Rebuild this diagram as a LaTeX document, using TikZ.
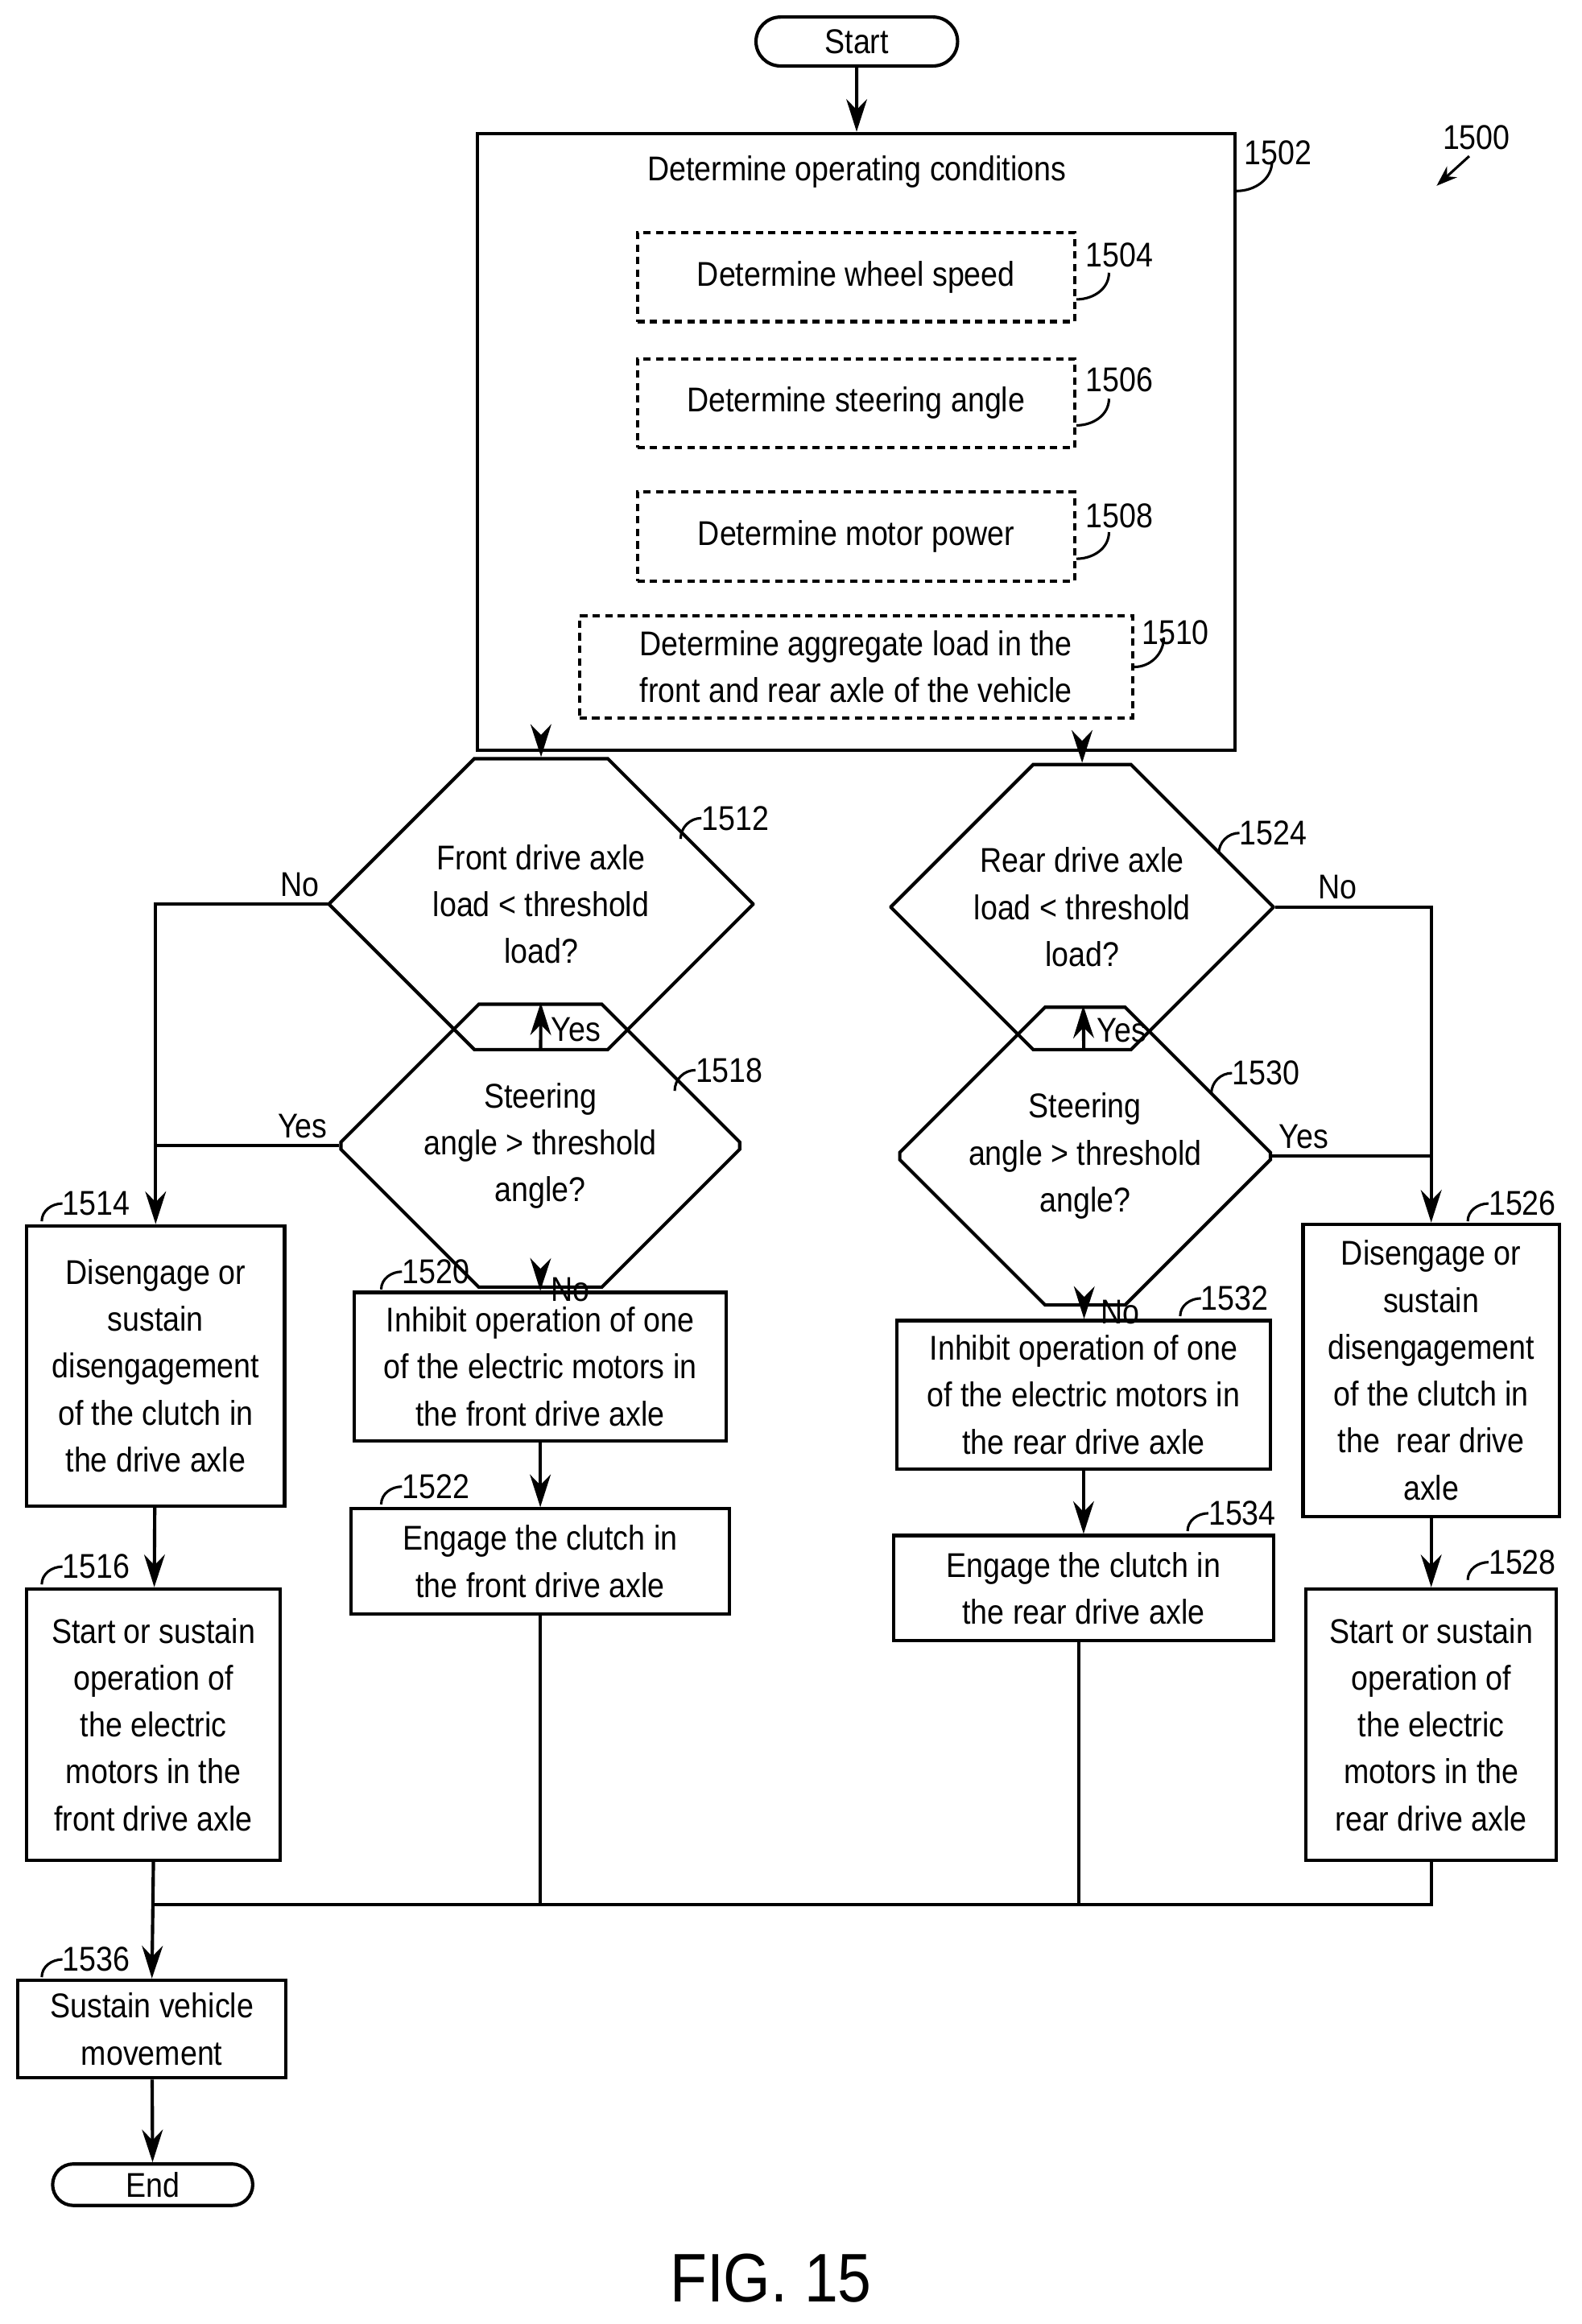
\documentclass[tikz,border=0pt]{standalone}
\usepackage{fontspec}
\setmainfont{Liberation Sans}[FakeStretch=0.88]
\usetikzlibrary{shapes.misc,arrows.meta}
\begin{document}
\begin{tikzpicture}[x=0.5mm,y=-0.5mm,
  every node/.style={font=\fontsize{33}{45}\selectfont, align=center, inner sep=0pt},
  ln/.style={line width=3.2pt},
  box/.style={draw, line width=3.2pt, rectangle},
  dbox/.style={draw, line width=3.2pt, rectangle, dash pattern=on 7pt off 5pt},
  hex/.style={draw, line width=3.2pt, chamfered rectangle, chamfered rectangle xsep=20mm, chamfered rectangle ysep=29mm},
  term/.style={draw, line width=3.2pt, rounded rectangle},
  arr/.style={ln, -{Stealth[length=11mm,width=7mm]}},
  lab/.style={font=\fontsize{33}{45}\selectfont},
  hook/.style={line width=2.4pt}
]
\useasboundingbox (0,0) rectangle (1067,1568);
% terminals
\node[term, minimum width=68mm, minimum height=16.5mm] (start) at (578,28) {Start};
\node[term, minimum width=67.5mm, minimum height=14mm] (end) at (103,1474) {End};
% main box
\node[box, minimum width=255.5mm, minimum height=208mm] (b1502) at (577.5,298) {};
\node (t1502) at (578,116) {Determine operating conditions};
\node[dbox, minimum width=147.5mm, minimum height=30mm] (b1504) at (577.5,187) {Determine wheel speed};
\node[dbox, minimum width=147.5mm, minimum height=30mm] (b1506) at (577.5,272) {Determine steering angle};
\node[dbox, minimum width=147.5mm, minimum height=30mm] (b1508) at (577.5,362) {Determine motor power};
\node[dbox, minimum width=186.5mm, minimum height=34.5mm] (b1510) at (577.5,450) {Determine aggregate load in the\\front and rear axle of the vehicle};
% hexagons
\node[hex, minimum width=143mm, minimum height=58mm] (d1512) at (365,610) {Front drive axle\\load < threshold\\load?};
\node[hex, minimum width=134.5mm, minimum height=53mm, chamfered rectangle ysep=26.5mm] (d1518) at (364.5,773) {Steering\\angle > threshold\\angle?};
\node[hex, minimum width=129mm, minimum height=56mm, chamfered rectangle ysep=28mm] (d1524) at (730,612) {Rear drive axle\\load < threshold\\load?};
\node[hex, minimum width=125mm, minimum height=58mm] (d1530) at (732,780) {Steering\\angle > threshold\\angle?};
% boxes
\node[box, minimum width=87mm, minimum height=94.5mm] (b1514) at (105,921.5) {Disengage or\\sustain\\disengagement\\of the clutch in\\the drive axle};
\node[box, minimum width=85.5mm, minimum height=91.5mm] (b1516) at (103.5,1163.5) {Start or sustain\\operation of\\the electric\\motors in the\\front drive axle};
\node[box, minimum width=125.5mm, minimum height=50mm] (b1520) at (364.5,922) {Inhibit operation of one\\of the electric motors in\\the front drive axle};
\node[box, minimum width=127.5mm, minimum height=35.5mm] (b1522) at (364.5,1053.5) {Engage the clutch in\\the front drive axle};
\node[box, minimum width=126mm, minimum height=50mm] (b1532) at (731,941) {Inhibit operation of one\\of the electric motors in\\the rear drive axle};
\node[box, minimum width=128mm, minimum height=35.5mm] (b1534) at (731,1071.5) {Engage the clutch in\\the rear drive axle};
\node[box, minimum width=86.5mm, minimum height=98.5mm] (b1526) at (965.5,924.5) {Disengage or\\sustain\\disengagement\\of the clutch in\\the\ \ rear drive\\axle};
\node[box, minimum width=84.5mm, minimum height=91.5mm] (b1528) at (965.5,1163.5) {Start or sustain\\operation of\\the electric\\motors in the\\rear drive axle};
\node[box, minimum width=90.5mm, minimum height=33mm] (b1536) at (102.5,1369) {Sustain vehicle\\movement};
% connectors
\draw[arr] (start) -- (b1502);
\draw[arr] (b1502.south -| d1512.north) -- (d1512);
\draw[arr] (b1502.south -| d1524.north) -- (d1524);
\draw[arr] (d1512) -- node[lab, right=3mm, pos=0.45] {Yes} (d1518);
\draw[arr] (d1512.west) -| node[lab, pos=0.08, above=2mm] {No} (b1514.north);
\draw[ln] (d1518.west) -- node[lab, pos=0.2, above=2mm] {Yes} (d1518.west -| b1514.north);
\draw[arr] (d1518) -- node[lab, right=3mm, pos=0.45] {No} (b1520);
\draw[arr] (b1520) -- (b1522);
\draw[arr] (d1524) -- node[lab, right=4mm, pos=0.45] {Yes} (d1530);
\draw[arr] (d1524.east) -| node[lab, pos=0.2, above=2mm] {No} (b1526.north);
\draw[ln] (d1530.east) -- node[lab, pos=0.2, above=2mm] {Yes} (d1530.east -| b1526.north);
\draw[arr] (d1530) -- node[lab, right=5mm, pos=0.45] {No} (b1532);
\draw[arr] (b1532) -- (b1534);
\draw[arr] (b1514) -- (b1516);
\draw[arr] (b1526) -- (b1528);
\coordinate (busL) at (103.5,1285);
\coordinate (busR) at (965.5,1285);
\draw[ln] (b1522.south) -- (b1522.south |- busL);
\draw[ln] (b1534.south) ++(-3,0) -- ++(0,178);
\draw[ln] (b1528.south) -- (busR) -- (busL);
\draw[arr] (b1516.south) -- (b1536.north);
\draw[arr] (b1536) -- (end);
% reference labels
\node (r1500) at (996,93) {1500};
\draw[line width=2.4pt, -{Stealth[length=7mm,width=5mm]}] (r1500.south west) ++(18,4) -- ++(-22,20);
\node (r1502) at (862,103) {1502};
\draw[hook] (b1502.north east) ++(0,40) to[out=0,in=-90] ++(24,-20);
\node (r1504) at (755,172) {1504};
\draw[hook] (b1504.east) ++(0,15) to[out=0,in=-90] ++(22,-18);
\node (r1506) at (755,256) {1506};
\draw[hook] (b1506.east) ++(0,15) to[out=0,in=-90] ++(22,-18);
\node (r1508) at (755,348) {1508};
\draw[hook] (b1508.east) ++(0,15) to[out=0,in=-90] ++(22,-18);
\node (r1510) at (793,427) {1510};
\draw[hook] (b1510.east) ++(0,0) to[out=0,in=-90] ++(20,-20);
\node (r1512) at (496,552) {1512};
\draw[hook] (r1512.west) to[out=180,in=90] ++(-14,14);
\node (r1518) at (492,722) {1518};
\draw[hook] (r1518.west) to[out=180,in=90] ++(-14,14);
\node (r1524) at (859,562) {1524};
\draw[hook] (r1524.west) to[out=180,in=90] ++(-14,14);
\node (r1530) at (854,724) {1530};
\draw[hook] (r1530.west) to[out=180,in=90] ++(-14,14);
\node (r1514) at (65,812) {1514};
\draw[hook] (r1514.west) to[out=180,in=90] ++(-14,12);
\node (r1516) at (65,1057) {1516};
\draw[hook] (r1516.west) to[out=180,in=90] ++(-14,12);
\node (r1520) at (294,858) {1520};
\draw[hook] (r1520.west) to[out=180,in=90] ++(-14,12);
\node (r1522) at (294,1003) {1522};
\draw[hook] (r1522.west) to[out=180,in=90] ++(-14,12);
\node (r1532) at (833,876) {1532};
\draw[hook] (r1532.west) to[out=180,in=90] ++(-14,12);
\node (r1534) at (838,1021) {1534};
\draw[hook] (r1534.west) to[out=180,in=90] ++(-14,12);
\node (r1526) at (1027,812) {1526};
\draw[hook] (r1526.west) to[out=180,in=90] ++(-14,12);
\node (r1528) at (1027,1054) {1528};
\draw[hook] (r1528.west) to[out=180,in=90] ++(-14,12);
\node (r1536) at (65,1322) {1536};
\draw[hook] (r1536.west) to[out=180,in=90] ++(-14,12);
\node[font=\fontsize{66}{70}\selectfont] (fig) at (520,1537) {FIG. 15};
\end{tikzpicture}
\end{document}
